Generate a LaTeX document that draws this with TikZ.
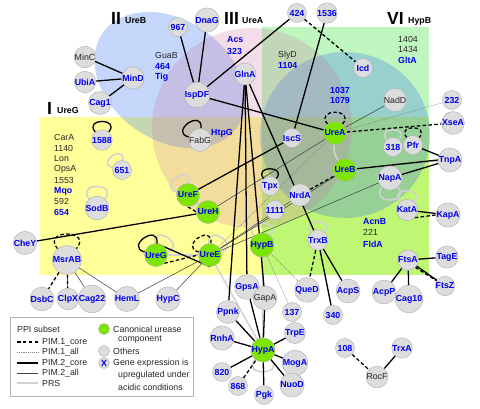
\documentclass[tikz,border=0pt]{standalone}
\usepackage{fontspec}
\setmainfont{Liberation Sans}
\usetikzlibrary{positioning,backgrounds}
\definecolor{ureagreen}{RGB}{125,230,0}
\definecolor{protgray}{RGB}{221,221,221}
\definecolor{upblue}{RGB}{0,0,235}
\definecolor{regyellow}{RGB}{255,255,0}
\definecolor{reggreen}{RGB}{0,220,0}
\definecolor{regblue}{RGB}{60,120,235}
\definecolor{regpink}{RGB}{205,120,165}
\pgfdeclarelayer{edges}
\pgfsetlayers{background,edges,main}

\begin{document}
\begin{tikzpicture}[x=0.03cm,y=0.03cm,font=\fontsize{7.5}{8}\selectfont,
  prot/.style={circle,draw=gray!60,fill=protgray,minimum size=0.57cm,inner sep=0pt,text=upblue,font=\fontsize{7.5}{8}\selectfont\bfseries},
  protk/.style={prot,text=black!85,font=\fontsize{7.5}{8}\selectfont},
  ure/.style={prot,fill=ureagreen,minimum size=0.69cm},
  lbl/.style={anchor=west,inner sep=0pt,text=black!85},
  uplbl/.style={lbl,text=upblue,font=\fontsize{7.5}{8}\selectfont\bfseries},
  grp/.style={anchor=west,inner sep=0pt,font=\fontsize{15}{15}\selectfont\bfseries},
  grpname/.style={anchor=west,inner sep=0pt,font=\fontsize{7.5}{8}\selectfont\bfseries},
  pimonecore/.style={line width=1.1pt,dash pattern=on 3pt off 2pt},
  pimoneall/.style={line width=0.45pt,gray,dash pattern=on 0.8pt off 0.8pt},
  pimtwocore/.style={line width=1.1pt},
  pimtwoall/.style={line width=0.45pt,black!75},
  prs/.style={line width=1.3pt,gray!35},
  loopup/.style={out=130,in=50,looseness=3.5},
  loopupl/.style={out=165,in=85,looseness=3.5},
  loopupr/.style={out=95,in=15,looseness=3.5},
  loopdown/.style={out=-50,in=-130,looseness=3.5},
]
\useasboundingbox (0,0) rectangle (480,-408);

% groups
\begin{scope}[on background layer]
\fill[regyellow,fill opacity=0.4] (40,-117) rectangle (429,-275);
\fill[reggreen,fill opacity=0.25] (262,-27) rectangle (429,-275);
\fill[regblue,fill opacity=0.3,rotate around={-35:(170,-80)}] (170,-80) ellipse (82 and 60);
\fill[regblue,fill opacity=0.3] (345,-135) ellipse (85 and 83);
\fill[regpink,fill opacity=0.25] (252,-128) circle (100);
\end{scope}
\node[grp] at (47,-108) {I}; \node[grpname] at (57,-110) {UreG};
\node[grp] at (111,-18) {II}; \node[grpname] at (125,-21) {UreB};
\node[grp] at (224,-18) {III}; \node[grpname] at (242,-21) {UreA};
\node[grp] at (387,-18) {VI}; \node[grpname] at (408,-21) {HypB};

% text-only members
\node[lbl] at (155,-55) {GuaB}; \node[uplbl] at (155,-66) {464}; \node[uplbl] at (155,-77) {Tig};
\node[uplbl] at (227,-40) {Acs}; \node[uplbl] at (227,-51) {323};
\node[lbl] at (278,-55) {SlyD}; \node[uplbl] at (278,-65) {1104};
\node[uplbl] at (330,-90) {1037}; \node[uplbl] at (330,-100) {1079};
\node[lbl] at (398,-39) {1404}; \node[lbl] at (398,-49) {1434}; \node[uplbl] at (398,-60) {GltA};
\node[uplbl] at (211,-133) {HtpG};
\node[lbl] at (54,-137) {CarA}; \node[lbl] at (54,-148) {1140};
\node[lbl] at (54,-159) {Lon}; \node[lbl] at (54,-169) {OpsA};
\node[lbl] at (54,-180) {1553}; \node[uplbl] at (54,-191) {Mqo};
\node[lbl] at (54,-201) {592}; \node[uplbl] at (54,-212) {654};
\node[uplbl] at (363,-222) {AcnB}; \node[lbl] at (363,-232) {221}; \node[uplbl] at (363,-244) {FldA};

% proteins
\node[protk] (minc) at (85,-57) {MinC};
\node[prot] (ubia) at (85,-82) {UbiA};
\node[prot] (cagone) at (100,-103) {Cag1};
\node[prot] (mind) at (133,-78) {MinD};
\node[prot] (n967) at (178,-27) {967};
\node[prot] (dnag) at (207,-20) {DnaG};
\node[prot] (ispdf) at (197,-95) {IspDF};
\node[prot] (glna) at (245,-74) {GlnA};
\node[prot] (n424) at (297,-13) {424};
\node[prot] (n1536) at (327,-13) {1536};
\node[prot] (icd) at (363,-68) {Icd};
\node[protk] (nadd) at (395,-100) {NadD};
\node[prot] (n232) at (452,-100) {232};
\node[prot] (xsea) at (453,-123) {XseA};
\node[protk] (fabg) at (200,-140) {FabG};
\node[prot] (iscs) at (292,-138) {IscS};
\node[prot] (n1588) at (102,-140) {1588};
\node[prot] (n651) at (122,-170) {651};
\node[prot] (sodb) at (97,-208) {SodB};
\node[ure] (uref) at (188,-195) {UreF};
\node[ure] (ureh) at (208,-212) {UreH};
\node[ure] (urea) at (335,-133) {UreA};
\node[ure] (ureb) at (345,-170) {UreB};
\node[prot] (tpx) at (270,-186) {Tpx};
\node[prot] (n1111) at (275,-210) {1111};
\node[prot] (nrda) at (300,-195) {NrdA};
\node[prot] (n318) at (393,-147) {318};
\node[prot] (pfr) at (413,-145) {Pfr};
\node[prot] (tnpa) at (450,-160) {TnpA};
\node[prot] (napa) at (390,-178) {NapA};
\node[prot] (kata) at (407,-210) {KatA};
\node[prot] (kapa) at (448,-215) {KapA};
\node[prot] (chey) at (25,-243) {CheY};
\node[prot] (msrab) at (67,-260) {MsrAB};
\node[ure] (ureg) at (156,-255) {UreG};
\node[ure] (uree) at (210,-255) {UreE};
\node[ure] (hypb) at (262,-245) {HypB};
\node[prot] (trxb) at (318,-240) {TrxB};
\node[prot] (ftsa) at (408,-260) {FtsA};
\node[prot] (tage) at (447,-257) {TagE};
\node[prot] (ftsz) at (445,-286) {FtsZ};
\node[prot] (dsbc) at (42,-299) {DsbC};
\node[prot] (clpx) at (68,-299) {ClpX};
\node[prot] (cagtt) at (92,-299) {Cag22};
\node[prot] (heml) at (127,-299) {HemL};
\node[prot] (hypc) at (168,-299) {HypC};
\node[prot] (gpsa) at (247,-287) {GpsA};
\node[protk] (gapa) at (265,-298) {GapA};
\node[prot] (ppnk) at (228,-312) {Ppnk};
\node[prot] (qued) at (307,-290) {QueD};
\node[prot] (n137) at (292,-312) {137};
\node[prot] (acps) at (348,-291) {AcpS};
\node[prot] (acpp) at (384,-292) {AcpP};
\node[prot] (cagten) at (409,-299) {Cag10};
\node[prot] (n340) at (333,-315) {340};
\node[prot] (rnha) at (222,-338) {RnhA};
\node[prot] (trpe) at (295,-333) {TrpE};
\node[ure] (hypa) at (263,-350) {HypA};
\node[prot] (moga) at (295,-363) {MogA};
\node[prot] (n820) at (222,-372) {820};
\node[prot] (n868) at (238,-386) {868};
\node[prot] (pgk) at (264,-395) {Pgk};
\node[prot] (nuod) at (292,-385) {NuoD};
\node[prot] (n108) at (345,-348) {108};
\node[prot] (trxa) at (402,-348) {TrxA};
\node[protk] (rocf) at (377,-377) {RocF};

\begin{pgfonlayer}{edges}
% PRS
\draw[prs] (uref) -- (ureh);
\draw[prs] (ureg) -- (uree);
\draw[prs] (urea) to[bend right=20] (ureb);
\draw[prs] (uree) -- (hypa);
\draw[prs] (hypb) -- (hypa);
\draw[prs] (uref) to[loopupl] (uref);
\draw[prs] (n651) to[loopupl] (n651);
\draw[prs] (sodb) to[loopup] (sodb);
\draw[prs] (ureg) to[loopupr] (ureg);
\draw[prs] (uree) to[loopupr] (uree);
\draw[prs] (n318) to[loopup] (n318);
\draw[prs] (napa) to[loopdown] (napa);
\draw[prs] (kata) to[loopup] (kata);
\draw[prs] (trxb) to[loopup] (trxb);
\draw[prs] (hypb) to[loopup] (hypb);
\draw[prs] (hypa) to[loopdown] (hypa);
% PIM.2_all
\draw[pimtwoall] (urea) -- (nadd);
\draw[pimtwoall] (ureh) -- (urea);
\draw[pimtwoall] (uree) -- (nrda);
\draw[pimtwoall] (uree) -- (ureb);
\draw[pimtwoall] (uree) -- (napa);
\draw[pimtwoall] (msrab) -- (clpx);
\draw[pimtwoall] (msrab) -- (cagtt);
\draw[pimtwoall] (msrab) -- (heml);
\draw[pimtwoall] (heml) -- (uree);
\draw[pimtwoall] (hypc) -- (uree);
% PIM.1_all
\draw[pimoneall] (urea) -- (n232);
\draw[pimoneall] (uree) -- (urea);
\draw[pimoneall] (ureb) -- (tnpa);
\draw[pimoneall] (hypb) -- (n137);
\draw[pimoneall] (hypb) -- (qued);
% PIM.2_core
\draw[pimtwocore] (minc) -- (mind);
\draw[pimtwocore] (ubia) -- (mind);
\draw[pimtwocore] (cagone) -- (mind);
\draw[pimtwocore] (n967) -- (ispdf);
\draw[pimtwocore] (dnag) -- (ispdf);
\draw[pimtwocore] (n424) -- (ispdf);
\draw[pimtwocore] (ispdf) -- (urea);
\draw[pimtwocore] (n1536) -- (iscs);
\draw[pimtwocore] (iscs) -- (uref);
\draw[pimtwocore] (chey) -- (ureh);
\draw[pimtwocore] (glna) -- (ppnk);
\draw[pimtwocore] (glna) -- (gpsa);
\draw[pimtwocore] (glna) -- (gapa);
\draw[pimtwocore] (glna) -- (trxb);
\draw[pimtwocore] (ureg.north) -- (uree.south);
\draw[pimtwocore] (ureb) -- (tnpa.west);
\draw[pimtwocore] (pfr) -- (tnpa);
\draw[pimtwocore] (napa) -- (tnpa);
\draw[pimtwocore] (kata) -- (kapa);
\draw[pimtwocore] (trxb) -- (acps);
\draw[pimtwocore] (trxb) -- (n340);
\draw[pimtwocore] (ftsa) -- (tage);
\draw[pimtwocore] (ftsa) -- (ftsz);
\draw[pimtwocore] (ftsa) -- (acpp);
\draw[pimtwocore] (ftsa) -- (cagten);
\foreach \p in {ppnk,gpsa,gapa,rnha,trpe,moga,n820,pgk,nuod}
  \draw[pimtwocore] (\p) -- (hypa);
\draw[pimtwocore] (trxa) -- (rocf);
\draw[pimtwocore] (n1588) to[loopup] (n1588);
\draw[pimtwocore] (fabg) to[loopupl] (fabg);
\draw[pimtwocore] (tpx) to[loopup] (tpx);
\draw[pimtwocore] (ureg) to[loopupl] (ureg);
% PIM.1_core
\draw[pimonecore] (n424) -- (icd);
\draw[pimonecore] (urea) -- (xsea);
\draw[pimonecore] (msrab) -- (dsbc);
\draw[pimonecore] (msrab) -- (clpx);
\draw[pimonecore] (ureg.south east) -- (uree.west);
\draw[pimonecore] (uref.south) -- (ureh.west);
\draw[pimonecore] (nrda) -- (ureb);
\draw[pimonecore] (trxb) -- (qued);
\draw[pimonecore] (kata.south east) -- (kapa.west);
\draw[pimonecore] (ftsa.south east) -- (ftsz);
\draw[pimonecore] (n868) -- (hypa);
\draw[pimonecore] (n108) -- (rocf);
\draw[pimonecore] (msrab) to[loopup] (msrab);
\draw[pimonecore] (uree) to[loopupl] (uree);
\draw[pimonecore] (urea) to[loopup] (urea);
\draw[pimonecore] (pfr) to[loopup] (pfr);
\end{pgfonlayer}

% legend
\draw[gray!60,fill=white] (10,-317) rectangle (193,-396);
\node[lbl] at (17,-329) {PPI subset};
\draw[pimonecore] (17,-342) -- ++(21,0); \node[lbl] at (42,-342) {PIM.1\_core};
\draw[pimoneall] (17,-352) -- ++(21,0); \node[lbl] at (42,-352) {PIM.1\_all};
\draw[pimtwocore] (17,-363) -- ++(21,0); \node[lbl] at (42,-363) {PIM.2\_core};
\draw[pimtwoall] (17,-373) -- ++(21,0); \node[lbl] at (42,-373) {PIM.2\_all};
\draw[prs] (17,-383) -- ++(21,0); \node[lbl] at (42,-383) {PRS};
\node[ure,minimum size=0.33cm] at (104,-329) {};
\node[lbl] at (113,-329) {Canonical urease}; \node[lbl] at (118,-340) {component};
\node[prot,minimum size=0.33cm] at (104,-351) {};
\node[lbl] at (113,-351) {Others};
\node[prot,minimum size=0.33cm] at (104,-363) {X};
\node[lbl] at (113,-363) {Gene expression is};
\node[lbl] at (118,-375) {upregulated under};
\node[lbl] at (118,-387) {acidic conditions};
\end{tikzpicture}
\end{document}
